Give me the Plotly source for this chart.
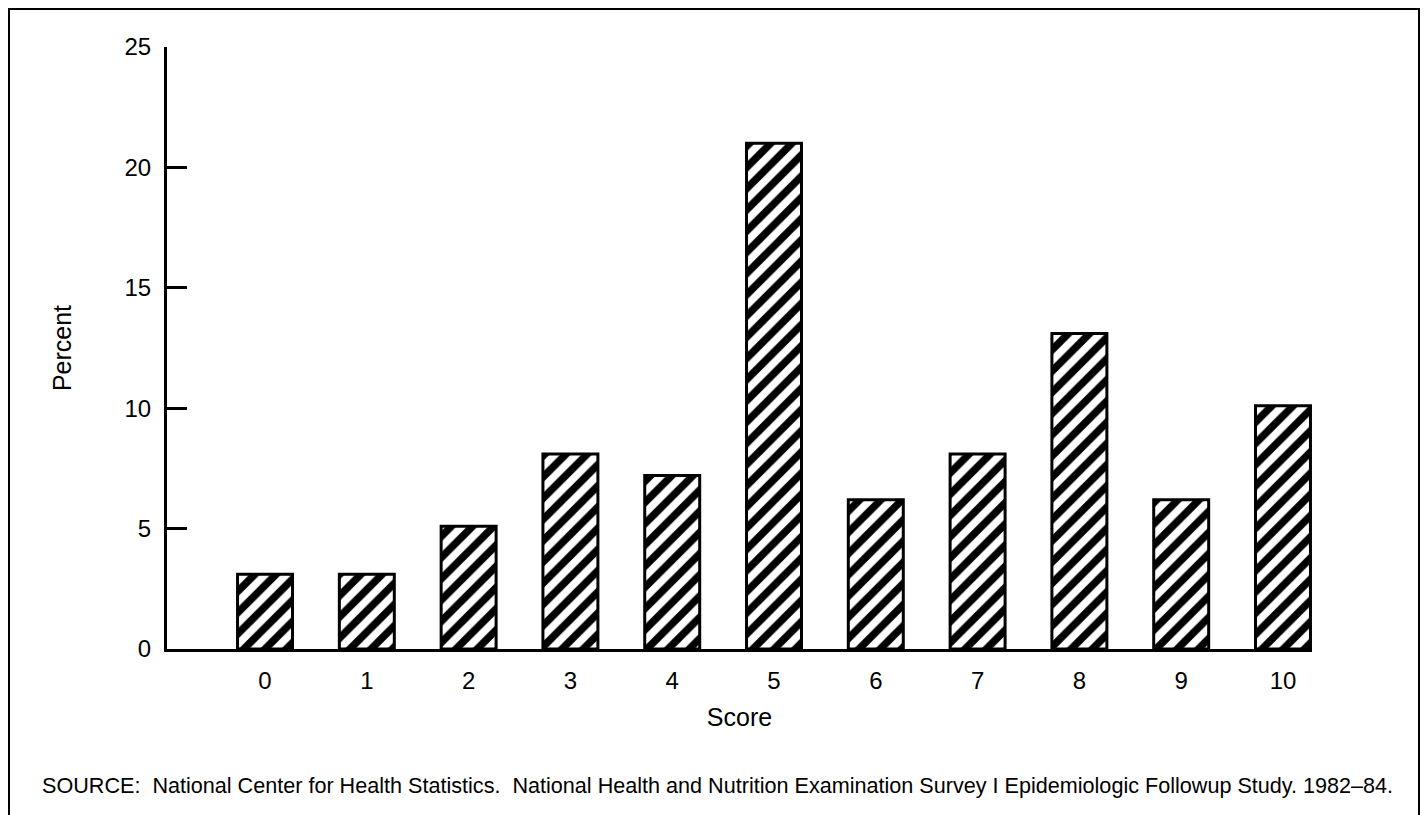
import plotly.graph_objects as go

# values
scores = [0, 1, 2, 3, 4, 5, 6, 7, 8, 9, 10]
percents = [3.1, 3.1, 5.1, 8.1, 7.2, 21.0, 6.2, 8.1, 13.1, 6.2, 10.1]
y_ticks = [0, 5, 10, 15, 20, 25]

source_text = ("SOURCE:  National Center for Health Statistics.  National Health and Nutrition "
               "Examination Survey I Epidemiologic Followup Study. 1982\u201384.")

# page body has an 8px margin, so the figure is drawn 8px smaller and shifted
OFF = 8
W, H = 1428 - OFF, 815 - OFF
L, T = 167 - OFF, 47 - OFF
R, B = W - (1312 - OFF), H - (649 - OFF)
pw, ph = W - L - R, H - T - B


def px_x(x):
    return (x - OFF - L) / pw


def px_y(y):
    return (T + ph - (y - OFF)) / ph


font = "Liberation Sans, Arial, sans-serif"

fig = go.Figure()
fig.add_trace(
    go.Bar(
        x=scores,
        y=percents,
        width=0.54,
        marker=dict(
            color="white",
            line=dict(color="black", width=3),
            pattern=dict(shape="/", fgcolor="black", bgcolor="white",
                         fgopacity=1, size=15, solidity=0.5),
        ),
        showlegend=False,
    )
)

fig.update_layout(
    width=W, height=H,
    margin=dict(l=L, r=R, t=T, b=B),
    paper_bgcolor="white",
    plot_bgcolor="white",
    font=dict(family=font, size=24, color="black"),
)

fig.update_xaxes(
    range=[-0.963, 10.285],
    tickmode="array", tickvals=scores, ticktext=[str(s) for s in scores],
    showgrid=False, zeroline=False,
    showline=True, linecolor="black", linewidth=3,
    ticks="", ticklabelstandoff=8,
    title=dict(text="Score", standoff=16, font=dict(size=25)),
)
fig.update_yaxes(
    range=[0, 25],
    tickmode="array", tickvals=y_ticks,
    showgrid=False, zeroline=False,
    showline=True, linecolor="black", linewidth=3,
    ticks="inside", ticklen=20, tickwidth=3, tickcolor="black",
    ticklabelstandoff=8,
    title=dict(text="Percent", standoff=46, font=dict(size=25)),
)

# outer frame around the figure
fig.add_shape(
    type="rect", xref="paper", yref="paper",
    x0=px_x(9), x1=px_x(1419),
    y0=px_y(840), y1=px_y(9),
    line=dict(color="black", width=2), fillcolor="rgba(0,0,0,0)",
)

fig.add_annotation(
    text=source_text, xref="paper", yref="paper",
    x=px_x(40), y=px_y(785),
    xanchor="left", yanchor="middle", showarrow=False,
    font=dict(size=21.6, family=font),
)

fig.write_html("out.html")
